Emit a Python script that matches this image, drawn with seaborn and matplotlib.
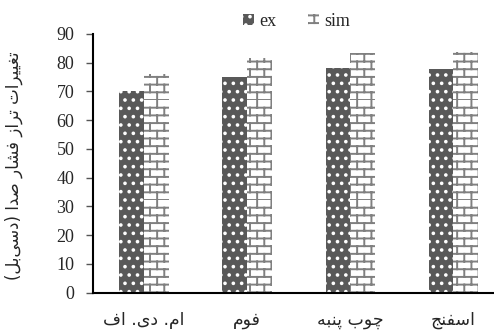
"""Bar chart: sound pressure level change per material (ex vs sim)."""

import matplotlib

matplotlib.use("Agg")
import matplotlib.hatch as mhatch
import matplotlib.pyplot as plt
import pandas as pd
import seaborn as sns
from matplotlib.path import Path

# Data (logical Persian text, RTL).
materials = ["ام. دی. اف", "فوم", "چوب پنبه", "اسفنج"]
series_names = ["ex", "sim"]
ex_values = [70.2, 74.9, 78.1, 77.8]
sim_values = [76.1, 81.6, 83.3, 83.9]
y_label = "تغییرات تراز فشار صدا (دسی\u200cبل)"
y_ticks = list(range(0, 100, 10))

# Minimal Persian shaping: isolated, final, initial, medial presentation forms.
FORMS = {
    "ا": (0xFE8D, 0xFE8E, None, None),
    "ب": (0xFE8F, 0xFE90, 0xFE91, 0xFE92),
    "پ": (0xFB56, 0xFB57, 0xFB58, 0xFB59),
    "ت": (0xFE95, 0xFE96, 0xFE97, 0xFE98),
    "ج": (0xFE9D, 0xFE9E, 0xFE9F, 0xFEA0),
    "چ": (0xFB7A, 0xFB7B, 0xFB7C, 0xFB7D),
    "د": (0xFEA9, 0xFEAA, None, None),
    "ر": (0xFEAD, 0xFEAE, None, None),
    "ز": (0xFEAF, 0xFEB0, None, None),
    "س": (0xFEB1, 0xFEB2, 0xFEB3, 0xFEB4),
    "ش": (0xFEB5, 0xFEB6, 0xFEB7, 0xFEB8),
    "ص": (0xFEB9, 0xFEBA, 0xFEBB, 0xFEBC),
    "غ": (0xFECD, 0xFECE, 0xFECF, 0xFED0),
    "ف": (0xFED1, 0xFED2, 0xFED3, 0xFED4),
    "ل": (0xFEDD, 0xFEDE, 0xFEDF, 0xFEE0),
    "م": (0xFEE1, 0xFEE2, 0xFEE3, 0xFEE4),
    "ن": (0xFEE5, 0xFEE6, 0xFEE7, 0xFEE8),
    "ه": (0xFEE9, 0xFEEA, 0xFEEB, 0xFEEC),
    "و": (0xFEED, 0xFEEE, None, None),
    "ی": (0xFEEF, 0xFEF0, 0xFEF3, 0xFEF4),
}


def shape_rtl(text: str) -> str:
    """Return a visual (left-to-right) string with joined Persian glyphs."""
    out = []
    for i, c in enumerate(text):
        if c not in FORMS:
            out.append(c)
            continue
        prev = text[i - 1] if i > 0 else None
        nxt = text[i + 1] if i + 1 < len(text) else None
        join_prev = prev in FORMS and FORMS[prev][2] is not None
        join_next = FORMS[c][2] is not None and nxt in FORMS
        iso, fin, ini, med = FORMS[c]
        if join_prev and join_next:
            g = med
        elif join_prev:
            g = fin
        elif join_next:
            g = ini
        else:
            g = iso
        out.append(chr(g))
    mirror = {"(": ")", ")": "("}
    return "".join(mirror.get(c, c) for c in reversed(out) if c != "\u200c")


class BrickHatch(mhatch.HatchPatternBase):
    """Brick wall hatch, used in place of the 'O' pattern."""

    def __init__(self, hatch, density):
        self.rows = 13 if "O" in hatch else 0
        self.cols = 7
        self.num_vertices = 2 * self.rows + 2 * self.rows * self.cols

    def set_vertices_and_codes(self, vertices, codes):
        k = 0
        for i in range(self.rows):
            y0 = i / self.rows
            y1 = (i + 1) / self.rows
            vertices[k:k + 2] = [(0.0, y0), (1.0, y0)]
            codes[k:k + 2] = [Path.MOVETO, Path.LINETO]
            k += 2
            shift = 0.5 * (i % 2)
            for j in range(self.cols):
                x = (j + shift) / self.cols
                vertices[k:k + 2] = [(x, y0), (x, y1)]
                codes[k:k + 2] = [Path.MOVETO, Path.LINETO]
                k += 2


mhatch._hatch_types = [
    BrickHatch if t is mhatch.LargeCircles else t for t in mhatch._hatch_types
]

sns.set_theme(style="ticks")
plt.rcParams["font.family"] = ["Liberation Serif", "DejaVu Sans"]
plt.rcParams["hatch.linewidth"] = 1.4

df = pd.DataFrame(
    {
        "material": materials * 2,
        "series": [series_names[0]] * 4 + [series_names[1]] * 4,
        "value": ex_values + sim_values,
    }
)

fig = plt.figure(figsize=(4.94, 3.34), dpi=100)
ax = fig.add_axes([0.1873, 0.1237, 0.835, 0.7746])
sns.barplot(
    data=df, x="material", y="value", hue="series", order=materials,
    palette=["#595959", "white"], width=0.48, ax=ax, legend=False,
)

for bar in ax.containers[0]:
    bar.set_hatch("..")
    bar.set_edgecolor("white")
    bar.set_linewidth(0)
for bar in ax.containers[1]:
    bar.set_hatch("O")
    bar.set_edgecolor("#808080")
    bar.set_linewidth(0)

ax.set_ylim(0, 90)
ax.set_yticks(y_ticks)
ax.tick_params(axis="y", labelsize=13, length=5, width=1, color="#555555", pad=8)
ax.tick_params(axis="x", length=0, pad=13)
ax.set_xticks(range(len(materials)))
ax.set_xticklabels([shape_rtl(m) for m in materials], fontfamily="DejaVu Sans", fontsize=12.5)
ax.set_xlabel("")
ax.set_ylabel(shape_rtl(y_label), fontfamily="DejaVu Sans", fontsize=12)
ax.yaxis.set_label_coords(-0.168, 0.49)
for side in ["top", "right"]:
    ax.spines[side].set_visible(False)
for side in ["left", "bottom"]:
    ax.spines[side].set_linewidth(1.5)
    ax.spines[side].set_color("black")

handles = [ax.containers[0][0], ax.containers[1][0]]
fig.legend(
    handles, series_names, loc="upper center", bbox_to_anchor=(0.6, 1.01),
    ncol=2, frameon=False, fontsize=13, handlelength=0.6, handleheight=0.6,
    handletextpad=0.3, columnspacing=1.75,
)

fig.savefig("out.png", dpi=100)
